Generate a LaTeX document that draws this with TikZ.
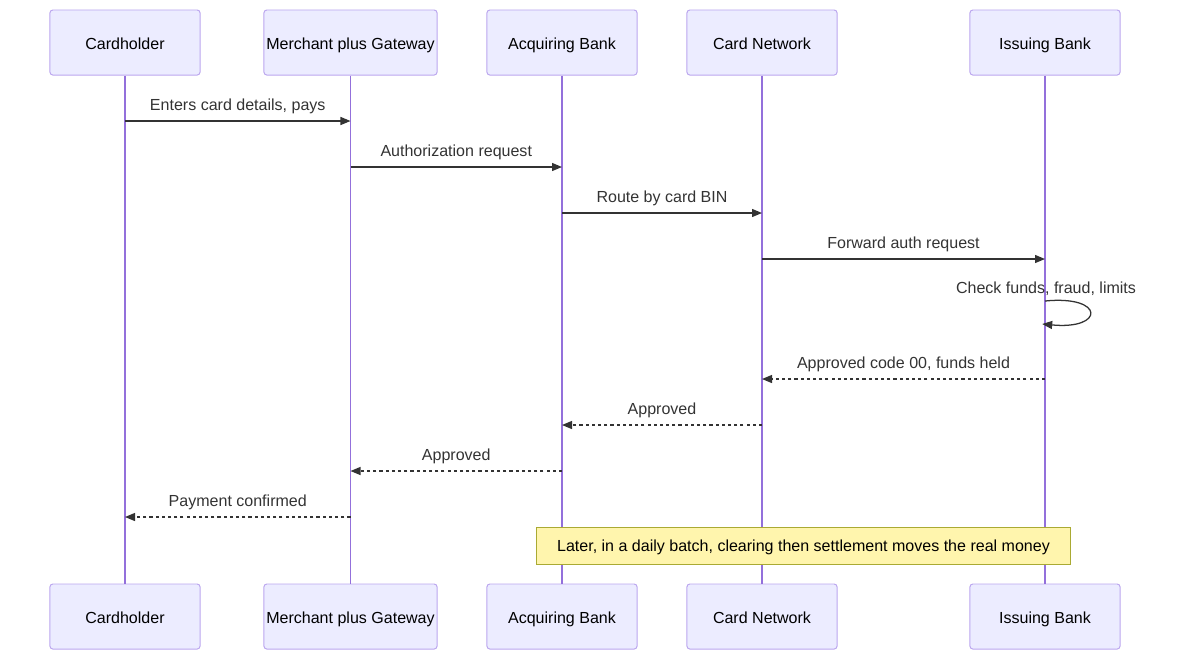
\documentclass[tikz,border=0pt]{standalone}
\usepackage{fontspec}
\setmainfont{Liberation Sans}
\usetikzlibrary{arrows.meta, positioning}
\definecolor{cactor}{HTML}{ECECFF}
\definecolor{cline}{HTML}{9370DB}
\definecolor{cedge}{HTML}{BBA6EE}
\definecolor{ctext}{HTML}{333333}
\definecolor{cnote}{HTML}{FFF5AD}
\definecolor{cnoteb}{HTML}{AAAA33}
\tikzset{
  every picture/.style={font=\fontsize{11.4}{13.7}\selectfont, text=ctext},
  actor/.style={draw=cedge, fill=cactor, rounded corners=2pt, line width=0.7pt, minimum width=#1, minimum height=1.625cm, inner sep=0pt, text height=11pt, text depth=1.5pt, text=black},
  actor/.default=3.75cm,
  life/.style={draw=cline, line width=1.2pt},
  msg/.style={-{Triangle[length=0.25cm, width=0.2cm]}, draw=ctext, line width=0.9pt},
  reply/.style={msg, dash pattern=on 2.2pt off 2.2pt},
  lbl/.style={above=4.6pt, inner sep=0pt, text height=8.2pt, text depth=2.4pt, text=ctext},
  notebox/.style={draw=cnoteb, fill=cnote, line width=0.7pt, minimum width=13.325cm, minimum height=0.925cm, inner sep=0pt, text height=10.5pt, text depth=1.5pt, text=black},
}
\begin{document}
\begin{tikzpicture}[x=0.025cm, y=-0.025cm]
  \useasboundingbox (0,0) rectangle (1180,660);
  % participants, top row
  \node[actor] (card) at (125, 42.5) {Cardholder};
  \node[actor=4.325cm] (merch) at (350.5, 42.5) {Merchant plus Gateway};
  \node[actor] (acq) at (562, 42.5) {Acquiring Bank};
  \node[actor] (net) at (762, 42.5) {Card Network};
  \node[actor] (iss) at (1045, 42.5) {Issuing Bank};
  % participants, bottom row
  \node[actor] (cardB) at (125, 616.5) {Cardholder};
  \node[actor=4.325cm] (merchB) at (350.5, 616.5) {Merchant plus Gateway};
  \node[actor] (acqB) at (562, 616.5) {Acquiring Bank};
  \node[actor] (netB) at (762, 616.5) {Card Network};
  \node[actor] (issB) at (1045, 616.5) {Issuing Bank};
  % lifelines
  \foreach \a in {card, merch, acq, net, iss}
    \draw[life] (\a.south) -- (\a B.north);
  % message rows
  \coordinate (m1) at (0, 121);
  \coordinate (m2) at (0, 167);
  \coordinate (m3) at (0, 213);
  \coordinate (m4) at (0, 259);
  \coordinate (s1) at (0, 301);
  \coordinate (s2) at (0, 324);
  \coordinate (r1) at (0, 379);
  \coordinate (r2) at (0, 425);
  \coordinate (r3) at (0, 471);
  \coordinate (r4) at (0, 517);
  \draw[msg] (card |- m1) -- (merch |- m1) node[midway, lbl] {Enters card details, pays};
  \draw[msg] (merch |- m2) -- (acq |- m2) node[midway, lbl] {Authorization request};
  \draw[msg] (acq |- m3) -- (net |- m3) node[midway, lbl] {Route by card BIN};
  \draw[msg] (net |- m4) -- (iss |- m4) node[midway, lbl] {Forward auth request};
  \draw[msg] (iss |- s1) .. controls (1105, 295) and (1105, 330) .. ([xshift=-2]iss |- s2);
  \node[inner sep=0pt, text height=8.2pt, text depth=2.4pt] (chk) at (1046, 289) {Check funds, fraud, limits};
  \draw[reply] (iss |- r1) -- (net |- r1) node[midway, lbl] {Approved code 00, funds held};
  \draw[reply] (net |- r2) -- (acq |- r2) node[midway, lbl] {Approved};
  \draw[reply] (acq |- r3) -- (merch |- r3) node[midway, lbl] {Approved};
  \draw[reply] (merch |- r4) -- (card |- r4) node[midway, lbl] {Payment confirmed};
  % settlement note
  \node[notebox] (later) at (803.5, 545.5) {Later, in a daily batch, clearing then settlement moves the real money};
\end{tikzpicture}
\end{document}
